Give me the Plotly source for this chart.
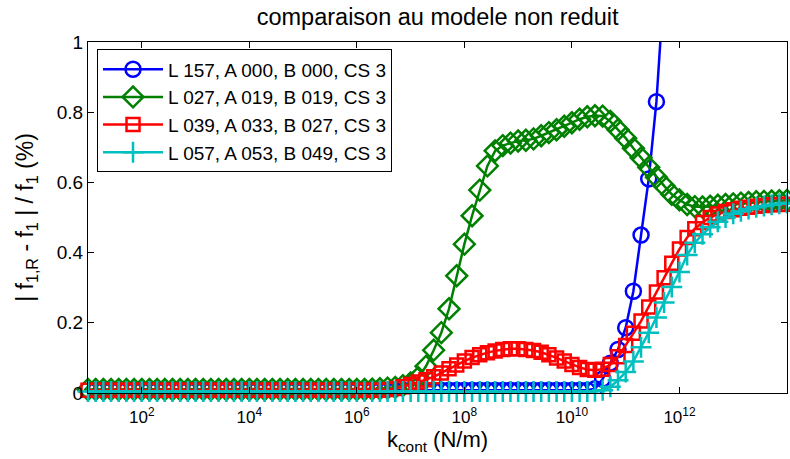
import numpy as np
import plotly.graph_objects as go

# x grid: contact stiffness (N/m), 7 points per decade from 1e1 to 1e14
k_cont = np.logspace(1, 14, 92)

series_names = [
    "L 157, A 000, B 000, CS 3",
    "L 027, A 019, B 019, CS 3",
    "L 039, A 033, B 027, CS 3",
    "L 057, A 053, B 049, CS 3",
]

err_L157 = [0.008] * 66 + [
    0.012, 0.040, 0.085, 0.124, 0.186, 0.290, 0.450, 0.610, 0.830, 1.140, 1.500]

err_L027 = [0.010] * 35 + [
    0.010, 0.010, 0.011, 0.012, 0.014, 0.016, 0.021, 0.029, 0.044, 0.076,
    0.122, 0.172, 0.240, 0.334, 0.424, 0.505, 0.578, 0.647, 0.690, 0.705,
    0.712, 0.718, 0.720, 0.724, 0.733, 0.742, 0.750, 0.760, 0.770, 0.780,
    0.787, 0.790, 0.789, 0.774, 0.750, 0.726, 0.697, 0.670, 0.643, 0.615,
    0.590, 0.566, 0.550, 0.537, 0.531, 0.530, 0.532, 0.535, 0.537, 0.539,
    0.541, 0.543, 0.545, 0.546, 0.547, 0.548, 0.549]

err_L039 = [0.008] * 39 + [
    0.010, 0.013, 0.018, 0.024, 0.031, 0.038, 0.046, 0.057, 0.069, 0.080,
    0.091, 0.101, 0.109, 0.115, 0.120, 0.124, 0.126, 0.126, 0.124, 0.121,
    0.116, 0.109, 0.100, 0.091, 0.081, 0.073, 0.067, 0.065, 0.068, 0.081,
    0.103, 0.135, 0.170, 0.205, 0.245, 0.288, 0.328, 0.370, 0.410, 0.443,
    0.468, 0.486, 0.500, 0.510, 0.517, 0.522, 0.526, 0.529, 0.532, 0.534,
    0.536, 0.537, 0.538]

err_L057 = [0.004] * 66 + [
    0.005, 0.008, 0.018, 0.036, 0.060, 0.090, 0.130, 0.172, 0.215, 0.258,
    0.302, 0.345, 0.393, 0.428, 0.452, 0.472, 0.488, 0.500, 0.511, 0.518,
    0.524, 0.529, 0.533, 0.536, 0.539, 0.541]

x_tickvals = [1e2, 1e4, 1e6, 1e8, 1e10, 1e12]
x_ticktext = ["10<sup>2</sup>", "10<sup>4</sup>", "10<sup>6</sup>",
              "10<sup>8</sup>", "10<sup>10</sup>", "10<sup>12</sup>"]
y_tickvals = [0, 0.2, 0.4, 0.6, 0.8, 1]
y_ticktext = ["0", "0.2", "0.4", "0.6", "0.8", "1"]

FONT = "Liberation Sans, Arial, Helvetica, sans-serif"

styles = [
    dict(color="#0000FF", symbol="circle-open", size=15, clip=True),
    dict(color="#008000", symbol="diamond-open", size=16, clip=False),
    dict(color="#FF0000", symbol="square-open", size=13, clip=False),
    dict(color="#00BFBF", symbol="cross-thin-open", size=15, clip=False),
]
all_series = [err_L157, err_L027, err_L039, err_L057]

fig = go.Figure()
for name, vals, st in zip(series_names, all_series, styles):
    fig.add_trace(go.Scatter(
        x=k_cont[:len(vals)], y=vals, name=name, mode="lines+markers",
        line=dict(color=st["color"], width=2.5),
        marker=dict(symbol=st["symbol"], size=st["size"], color=st["color"],
                    line=dict(color=st["color"], width=2.5)),
        cliponaxis=st["clip"],
    ))

fig.update_layout(
    width=790, height=459,
    margin=dict(l=88, r=3, t=42, b=66, pad=0),
    paper_bgcolor="white", plot_bgcolor="white",
    font=dict(family=FONT, color="black", size=19),
    title=dict(text="comparaison au modele non reduit", x=0.554, xref="container",
               xanchor="center", y=1 - 17 / 459, yref="container", yanchor="middle",
               font=dict(size=23.5, family=FONT, color="black")),
    showlegend=True,
    legend=dict(x=0.0129, y=0.979, xanchor="left", yanchor="top",
                bgcolor="white", bordercolor="black", borderwidth=1,
                font=dict(size=19, family=FONT, color="black"),
                itemwidth=60, tracegroupgap=0),
    xaxis=dict(type="log", range=[1, 14], tickvals=x_tickvals, ticktext=x_ticktext,
               ticks="inside", ticklen=6, tickcolor="black", mirror="ticks",
               showline=True, linecolor="black", linewidth=1, showgrid=False,
               zeroline=False, tickfont=dict(size=17), automargin=False,
               ticklabelstandoff=9,
               title=dict(text="k<sub>cont</sub> (N/m)", font=dict(size=22), standoff=5)),
    yaxis=dict(range=[0, 1], tickvals=y_tickvals, ticktext=y_ticktext,
               ticks="inside", ticklen=6, tickcolor="black", mirror="ticks",
               showline=True, linecolor="black", linewidth=1, showgrid=False,
               zeroline=False, tickfont=dict(size=19), automargin=False,
               title=dict(text="| f<sub>1,R</sub> - f<sub>1</sub> | / f<sub>1</sub> (%)",
                          font=dict(size=23), standoff=16)),
)

fig.write_html("out.html", config={"displayModeBar": False},
               post_script="document.body.style.margin='0';")
